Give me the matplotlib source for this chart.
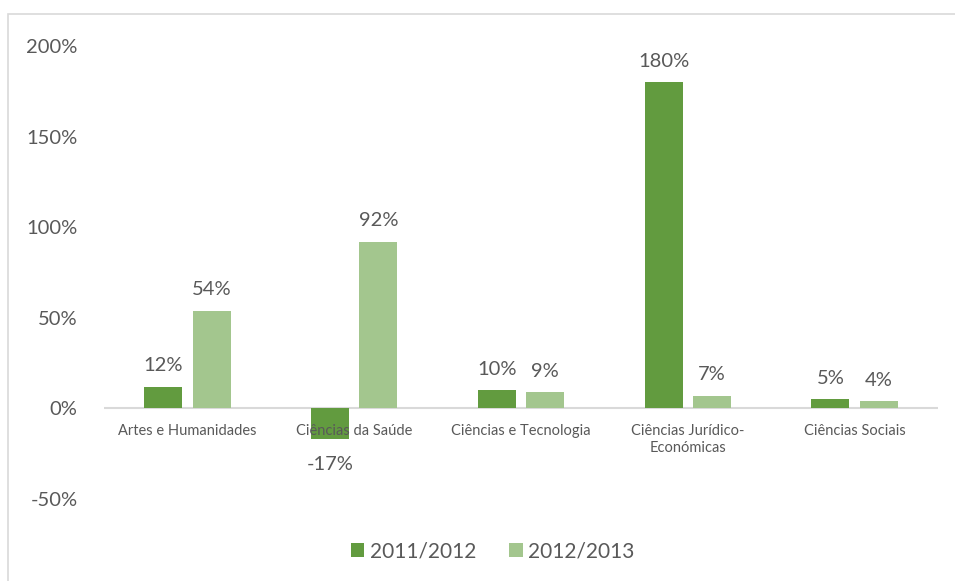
import numpy as np
import matplotlib.pyplot as plt
from matplotlib.patches import Rectangle
from matplotlib.ticker import FuncFormatter

categories = ["Artes e Humanidades", "Ciências da Saúde", "Ciências e Tecnologia",
              "Ciências Jurídico-\nEconómicas", "Ciências Sociais"]
series_names = ["2011/2012", "2012/2013"]
vals_2011 = [12, -17, 10, 180, 5]
vals_2012 = [54, 92, 9, 7, 4]

dark = "#629B3F"
light = "#A3C68E"
txt = "#595959"

plt.rcParams['font.family'] = ['Lato', 'DejaVu Sans']

fig = plt.figure(figsize=(9.55, 5.81), dpi=100)
W, H = 955, 581
ax = fig.add_axes([104 / W, 1 - 499 / H, (938 - 104) / W, (499 - 46) / H])

x = np.arange(len(categories))
bw = 0.228
off = 0.145
b1 = ax.bar(x - off, vals_2011, bw, color=dark, label=series_names[0])
b2 = ax.bar(x + off, vals_2012, bw, color=light, label=series_names[1])

for bars in (b1, b2):
    for b in bars:
        v = b.get_height()
        xc = b.get_x() + b.get_width() / 2
        if v >= 0:
            ax.annotate(f"{v:.0f}%", (xc, v), xytext=(0, 9), textcoords="offset points",
                        ha="center", va="bottom", fontsize=14.5, color=txt)
        else:
            ax.annotate(f"{v:.0f}%", (xc, v), xytext=(0, -12), textcoords="offset points",
                        ha="center", va="top", fontsize=14.5, color=txt)

ax.set_xlim(-0.5, len(categories) - 0.5)
ax.set_ylim(-50, 200)
ax.set_yticks([-50, 0, 50, 100, 150, 200])
ax.yaxis.set_major_formatter(FuncFormatter(lambda v, p: f"{v:.0f}%"))
ax.tick_params(axis="y", length=0, pad=19, labelsize=14.5, labelcolor=txt)
ax.set_xticks([])
for s in ax.spines.values():
    s.set_visible(False)
ax.axhline(0, color="#D9D9D9", lw=1.5, zorder=0)

for i, c in enumerate(categories):
    ax.text(i, -8.5, c, ha="center", va="top", fontsize=10.5, color=txt, linespacing=1.3)

ax.legend(loc="center", bbox_to_anchor=(0.466, 1 - (551 - 46) / (499 - 46)), ncol=2,
          frameon=False, fontsize=15, labelcolor=txt, handlelength=0.65, handleheight=0.65,
          handletextpad=0.25, columnspacing=1.6)

fig.patches.append(Rectangle((8 / W, -0.1), 1.2, 1 - 14 / H + 0.1, transform=fig.transFigure,
                             fill=False, edgecolor="#D9D9D9", lw=1.2))

fig.savefig("out.png", dpi=100)
